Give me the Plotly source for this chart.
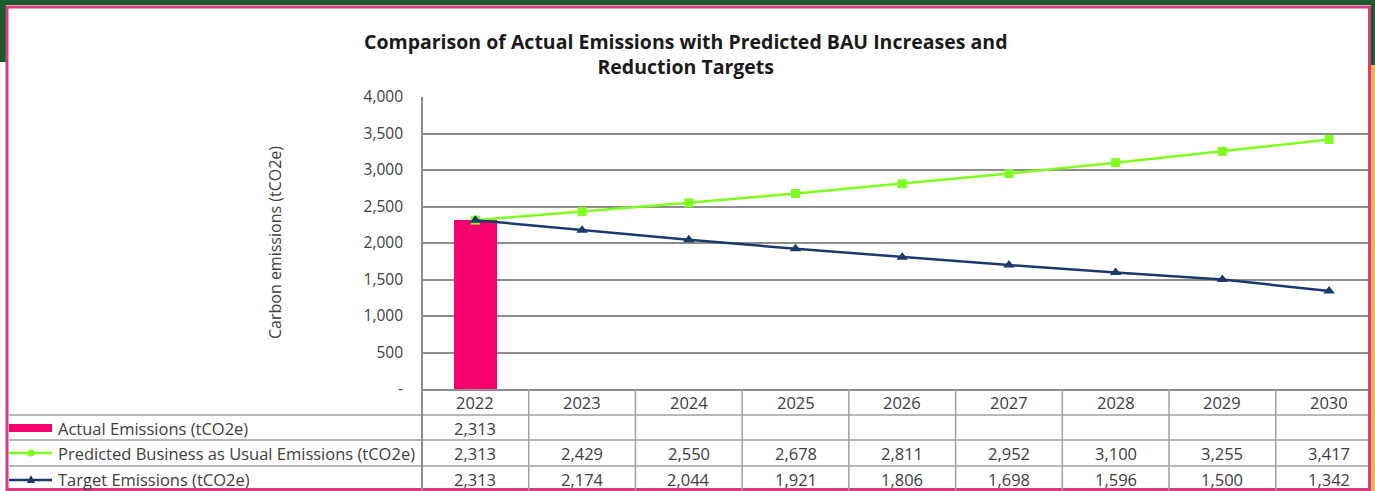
import plotly.graph_objects as go

W, H = 1375, 491

years = ["2022", "2023", "2024", "2025", "2026", "2027", "2028", "2029", "2030"]
actual = [2313, None, None, None, None, None, None, None, None]
bau = [2313, 2429, 2550, 2678, 2811, 2952, 3100, 3255, 3417]
target = [2313, 2174, 2044, 1921, 1806, 1698, 1596, 1500, 1342]
series_names = ["Actual Emissions (tCO2e)",
                "Predicted Business as Usual Emissions (tCO2e)",
                "Target Emissions (tCO2e)"]
y_tickvals = [0, 500, 1000, 1500, 2000, 2500, 3000, 3500, 4000]
y_ticktext = ["-", "500", "1,000", "1,500", "2,000", "2,500", "3,000", "3,500", "4,000"]
title_text = "Comparison of Actual Emissions with Predicted BAU Increases and<br>Reduction Targets"
y_title = "Carbon emissions (tCO2e)"

PINK = "#F5006E"
GREEN = "#7FFF1F"
NAVY = "#1B3A6B"
GRID = "#8E8E8E"
TXT = "#404040"
FONT = "Open Sans"


def X(px):
    return px / W


def Y(py):
    return 1 - py / H


def fmt(v):
    return "" if v is None else f"{v:,}"


fig = go.Figure()
fig.add_trace(go.Bar(x=years, y=actual, marker=dict(color=PINK, line=dict(width=0)),
                     width=0.4, name=series_names[0], showlegend=False))
fig.add_trace(go.Scatter(x=years, y=bau, mode="lines+markers", name=series_names[1],
                         line=dict(color=GREEN, width=2.5),
                         marker=dict(symbol="square", size=9, color=GREEN), showlegend=False))
fig.add_trace(go.Scatter(x=years, y=target, mode="lines+markers", name=series_names[2],
                         line=dict(color=NAVY, width=2.5),
                         marker=dict(symbol="triangle-up", size=10, color=NAVY), showlegend=False))

shapes = []
# outer background frame
shapes.append(dict(type="rect", xref="paper", yref="paper", x0=0, x1=1, y0=Y(5), y1=1,
                   fillcolor="#1C5A30", line=dict(width=0), layer="above"))
shapes.append(dict(type="rect", xref="paper", yref="paper", x0=0, x1=X(6), y0=Y(62), y1=1,
                   fillcolor="#1C5A30", line=dict(width=0), layer="above"))
shapes.append(dict(type="rect", xref="paper", yref="paper", x0=X(1371), x1=1, y0=Y(65), y1=1,
                   fillcolor="#1C5A30", line=dict(width=0), layer="above"))
shapes.append(dict(type="rect", xref="paper", yref="paper", x0=X(1371), x1=1, y0=0, y1=Y(65),
                   fillcolor="#F2B540", line=dict(width=0), layer="above"))
# pink border
shapes.append(dict(type="rect", xref="paper", yref="paper", x0=X(7), x1=X(1369.5), y0=Y(489.5), y1=Y(7),
                   fillcolor="rgba(0,0,0,0)", line=dict(color="#D93A80", width=3), layer="above"))

# table lines
for py in [415, 440, 466]:
    shapes.append(dict(type="line", xref="paper", yref="paper", x0=X(9), x1=X(1368), y0=Y(py), y1=Y(py),
                       line=dict(color="#A0A0A0", width=1.5)))
shapes.append(dict(type="line", xref="paper", yref="paper", x0=X(422), x1=X(422), y0=Y(97), y1=0,
                   line=dict(color=GRID, width=2)))
for i in range(len(years)):
    shapes.append(dict(type="line", xref="x", yref="paper", x0=i + 0.5, x1=i + 0.5, y0=Y(389), y1=0,
                       line=dict(color="#A0A0A0", width=1.5)))

# legend swatches
row_y = [428, 453, 479]
shapes.append(dict(type="rect", xref="paper", yref="paper", x0=X(9), x1=X(52), y0=Y(432), y1=Y(424),
                   fillcolor=PINK, line=dict(width=0)))
shapes.append(dict(type="line", xref="paper", yref="paper", x0=X(9), x1=X(52), y0=Y(row_y[1]), y1=Y(row_y[1]),
                   line=dict(color=GREEN, width=2.5)))
shapes.append(dict(type="circle", xref="paper", yref="paper", x0=X(27.5), x1=X(34.5), y0=Y(row_y[1] + 3.5),
                   y1=Y(row_y[1] - 3.5), fillcolor=GREEN, line=dict(width=0)))
shapes.append(dict(type="line", xref="paper", yref="paper", x0=X(9), x1=X(52), y0=Y(row_y[2] + 1), y1=Y(row_y[2] + 1),
                   line=dict(color=NAVY, width=2.5)))
shapes.append(dict(type="path", xref="paper", yref="paper",
                   path=f"M {X(27)} {Y(row_y[2] + 4)} L {X(35)} {Y(row_y[2] + 4)} L {X(31)} {Y(row_y[2] - 4)} Z",
                   fillcolor=NAVY, line=dict(width=0)))

TS = 16.5
annotations = []
annotations.append(dict(text=f"<b>{title_text}</b>", xref="paper", yref="paper", x=X(686), y=Y(54),
                        showarrow=False, font=dict(family=FONT, size=19.5, color="#1A1A1A"),
                        xanchor="center", yanchor="middle", align="center"))
annotations.append(dict(text=y_title, xref="paper", yref="paper", x=X(275), y=Y(243), textangle=-90,
                        showarrow=False, font=dict(family=FONT, size=16, color=TXT),
                        xanchor="center", yanchor="middle"))
for i, yr in enumerate(years):
    annotations.append(dict(text=yr, xref="x", yref="paper", x=i, y=Y(402), showarrow=False,
                            font=dict(family=FONT, size=TS, color=TXT), xanchor="center", yanchor="middle"))
for r, vals in enumerate([actual, bau, target]):
    annotations.append(dict(text=series_names[r], xref="paper", yref="paper", x=X(56), y=Y(row_y[r]),
                            showarrow=False, font=dict(family=FONT, size=TS, color=TXT),
                            xanchor="left", yanchor="middle"))
    for i, v in enumerate(vals):
        annotations.append(dict(text=fmt(v), xref="x", yref="paper", x=i, y=Y(row_y[r]), showarrow=False,
                                font=dict(family=FONT, size=TS, color=TXT), xanchor="center", yanchor="middle"))

fig.update_layout(
    template="none", autosize=False,
    width=W, height=H, margin=dict(l=0, r=0, t=0, b=0, pad=0, autoexpand=False),
    paper_bgcolor="white", plot_bgcolor="white",
    xaxis=dict(type="category", categoryorder="array", categoryarray=years, automargin=False,
               domain=[X(422), 1.0], range=[-0.5, 8.43], showticklabels=False, showgrid=False,
               showline=True, linecolor=GRID, linewidth=2, zeroline=False, ticks=""),
    yaxis=dict(domain=[Y(389), Y(97)], range=[0, 4000], tickvals=y_tickvals, ticktext=y_ticktext,
               automargin=False,
               showgrid=True, gridcolor=GRID, gridwidth=2, zeroline=False, showline=False,
               tickfont=dict(family=FONT, size=15.5, color=TXT), ticks="", ticklabelstandoff=18),
    shapes=shapes, annotations=annotations, bargap=0,
)

fig.write_html("out.html", config={"displayModeBar": False, "responsive": False},
               post_script="document.body.style.margin='0';document.body.style.padding='0';"
                           "document.body.style.overflow='hidden';")
